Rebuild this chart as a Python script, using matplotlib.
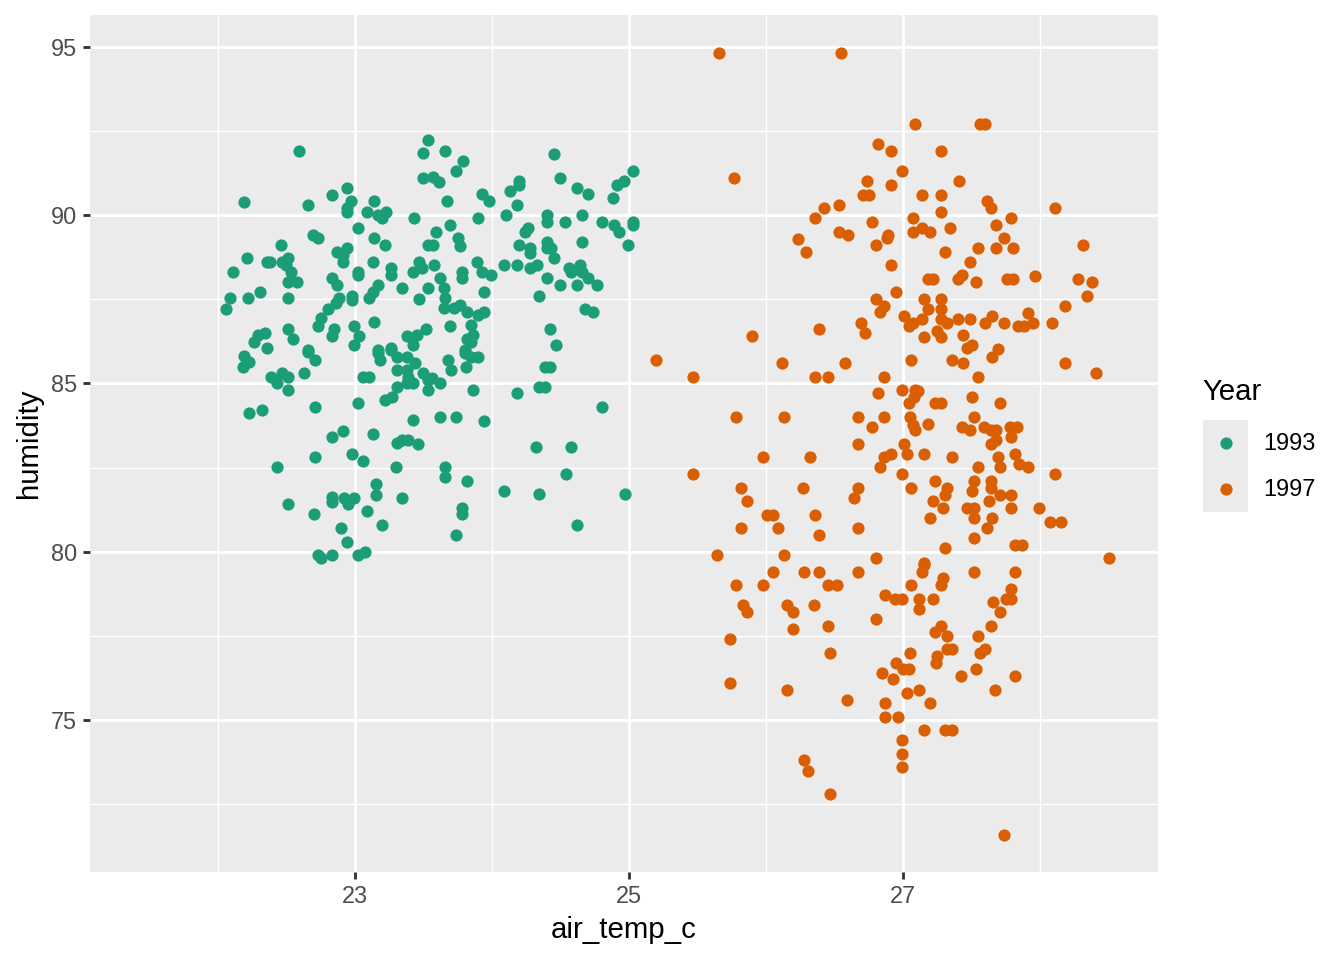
import matplotlib
matplotlib.use("Agg")
import matplotlib.pyplot as plt

# 1993 readings
temp_1993 = [22.59, 22.19, 22.66, 22.83, 22.94, 22.97, 22.94, 22.94, 23.14, 23.09,
             23.17, 23.20, 23.23, 23.43, 23.50, 23.53, 23.50, 23.02, 22.69, 22.73,
             23.14, 23.22, 22.46, 22.21, 22.36, 22.38, 22.47, 22.51, 22.50, 22.53,
             22.87, 22.94, 22.91, 22.91, 23.13, 23.26, 23.26, 23.42, 23.47, 23.49,
             22.11, 22.51, 22.58, 22.83, 22.87, 23.02, 23.02, 23.17, 23.13, 23.10,
             23.34, 23.53, 23.53, 22.09, 22.06, 22.22, 22.31, 22.51, 22.88, 22.86,
             22.98, 22.98, 23.47, 22.80, 22.75, 22.73, 23.14, 22.99, 23.03, 22.85,
             22.83, 22.51, 22.55, 22.34, 22.29, 22.26, 22.36, 22.66, 22.99, 23.17,
             23.26, 23.38, 23.45, 23.42, 23.52, 23.66, 23.79, 23.74, 23.57, 23.61,
             23.67, 23.93, 23.98, 24.13, 24.20, 24.20, 24.18, 24.10, 23.90, 24.45,
             24.50, 24.62, 24.70, 24.88, 24.91, 24.96, 25.03, 24.40, 24.40, 24.53,
             24.66, 24.80, 24.89, 24.93, 25.03, 25.03, 24.99, 24.26, 24.24, 24.20,
             24.28, 24.28, 24.40, 24.40, 24.43, 24.45, 24.66, 23.69, 23.59, 23.57,
             23.75, 23.77, 23.58, 23.62, 23.65, 23.66, 23.65, 23.78, 23.78, 23.89,
             23.93, 23.99, 23.94, 24.09, 24.18, 24.28, 24.33, 24.40, 24.50, 24.56,
             24.58, 24.64, 24.66, 24.70, 24.62, 24.77, 24.34, 23.72, 23.77, 23.82,
             23.90, 23.94, 24.68, 24.74, 23.69, 23.85, 23.86, 23.82, 23.85, 23.80,
             24.42, 24.47, 22.19, 22.23, 22.18, 22.66, 22.71, 22.63, 22.39, 22.43,
             22.47, 22.51, 22.51, 23.17, 23.18, 23.26, 23.31, 23.38, 23.44, 23.06,
             23.10, 23.31, 23.38, 23.39, 23.38, 23.42, 23.31, 23.50, 23.53, 23.53,
             23.22, 23.27, 23.02, 22.71, 22.23, 22.32, 23.42, 22.83, 22.91, 23.13,
             23.31, 23.34, 23.39, 23.46, 22.71, 22.98, 23.06, 22.43, 23.30, 23.15,
             23.15, 23.34, 22.83, 22.83, 22.92, 22.95, 22.99, 22.51, 22.70, 23.09,
             23.20, 22.90, 22.94, 22.73, 22.75, 22.83, 23.02, 23.07, 23.80, 23.85,
             23.90, 23.68, 23.70, 23.81, 23.56, 23.62, 23.86, 24.39, 24.42, 24.34,
             24.39, 24.18, 24.80, 23.62, 23.74, 23.94, 24.32, 24.58, 23.66, 23.66,
             23.82, 24.54, 24.09, 24.34, 24.97, 23.78, 23.78, 24.62, 23.74]
hum_1993 = [91.91, 90.39, 90.30, 90.60, 90.81, 90.42, 90.22, 90.10, 90.42, 90.10,
            90.01, 89.92, 90.10, 89.92, 91.85, 92.24, 91.11, 89.62, 89.41, 89.32,
            89.32, 89.12, 89.12, 88.73, 88.61, 88.61, 88.61, 88.73, 88.52, 88.31,
            88.91, 89.03, 88.82, 88.61, 88.61, 88.43, 88.22, 88.31, 88.61, 88.43,
            88.31, 88.02, 88.02, 88.14, 87.93, 88.31, 88.22, 87.93, 87.72, 87.54,
            87.84, 89.12, 87.84, 87.54, 87.21, 87.54, 87.72, 87.54, 87.54, 87.39,
            87.60, 87.48, 87.51, 87.21, 86.95, 86.71, 86.83, 86.71, 86.41, 86.62,
            86.41, 86.62, 86.32, 86.50, 86.44, 86.23, 86.05, 86.00, 86.14, 86.00,
            86.05, 86.41, 86.44, 86.14, 86.62, 91.91, 91.61, 91.31, 91.14, 90.99,
            90.42, 90.63, 90.42, 90.72, 91.02, 90.90, 90.30, 90.01, 89.92, 91.82,
            91.11, 90.81, 90.63, 90.51, 90.90, 91.02, 91.31, 90.01, 89.80, 89.80,
            90.01, 89.80, 89.71, 89.50, 89.80, 89.71, 89.12, 89.62, 89.50, 89.12,
            89.03, 88.88, 89.21, 89.03, 89.03, 88.73, 89.21, 89.71, 89.50, 89.12,
            89.32, 89.09, 88.52, 88.14, 87.84, 87.54, 87.24, 88.31, 88.14, 88.61,
            88.31, 88.22, 87.72, 88.52, 88.52, 88.43, 88.52, 88.14, 87.93, 88.43,
            88.31, 88.52, 88.31, 88.14, 87.93, 87.93, 87.60, 87.24, 87.33, 87.12,
            87.04, 87.12, 87.21, 87.12, 86.71, 86.74, 86.44, 86.32, 86.23, 86.00,
            86.62, 86.14, 85.82, 85.64, 85.49, 85.94, 85.70, 85.31, 85.19, 85.01,
            85.31, 85.19, 84.81, 85.91, 85.70, 86.00, 85.79, 85.79, 85.61, 85.19,
            85.19, 85.40, 85.40, 85.19, 85.01, 85.01, 84.90, 85.31, 85.10, 84.81,
            84.51, 84.60, 84.42, 84.30, 84.12, 84.21, 83.92, 83.41, 83.59, 83.50,
            83.23, 83.32, 83.32, 83.20, 82.82, 82.90, 82.70, 82.52, 82.52, 82.01,
            81.69, 81.60, 81.63, 81.48, 81.60, 81.42, 81.60, 81.42, 81.12, 81.21,
            80.79, 80.71, 80.29, 79.90, 79.81, 79.90, 79.90, 79.99, 85.91, 85.79,
            85.79, 85.70, 85.40, 85.49, 85.16, 85.01, 84.81, 85.49, 85.49, 84.90,
            84.90, 84.72, 84.30, 84.00, 84.00, 83.89, 83.11, 83.11, 82.52, 82.22,
            82.10, 82.31, 81.81, 81.72, 81.72, 81.30, 81.12, 80.79, 80.50]

# 1997 readings
temp_1997 = [25.66, 26.55, 26.82, 25.77, 26.74, 26.71, 26.75, 26.42, 26.53, 26.36,
             26.77, 26.53, 26.60, 26.23, 26.29, 26.80, 26.80, 27.09, 27.56, 27.60,
             26.91, 27.28, 26.99, 26.91, 27.41, 27.14, 27.28, 27.28, 27.61, 27.64,
             28.11, 27.07, 27.07, 27.14, 27.20, 27.34, 27.68, 27.79, 26.89, 26.88,
             27.74, 27.55, 27.68, 27.80, 27.31, 28.31, 26.91, 27.49, 27.18, 27.22,
             27.40, 27.43, 27.53, 27.76, 27.80, 27.96, 28.28, 28.38, 28.34, 26.95,
             26.86, 26.83, 27.15, 27.28, 27.18, 27.28, 27.28, 27.32, 27.01, 27.07,
             27.04, 27.14, 27.40, 27.49, 27.60, 27.65, 27.74, 27.84, 27.88, 27.91,
             27.95, 28.09, 28.18, 27.25, 27.15, 27.44, 27.28, 27.47, 27.50, 27.65,
             27.69, 27.06, 27.36, 27.44, 28.18, 28.41, 26.86, 27.55, 26.82, 26.99,
             27.09, 27.11, 27.08, 27.04, 27.23, 27.28, 27.50, 27.71, 26.86, 27.05,
             27.07, 27.09, 27.18, 27.52, 27.43, 27.49, 27.59, 27.64, 27.68, 27.78,
             27.83, 27.79, 27.64, 27.68, 27.01, 27.03, 26.86, 26.91, 26.83, 27.15,
             27.36, 27.69, 27.71, 27.82, 27.85, 27.91, 27.55, 28.11, 26.99, 27.06,
             27.23, 27.32, 27.31, 27.52, 27.50, 27.64, 27.64, 27.71, 27.79, 27.22,
             27.29, 27.63, 27.47, 27.52, 27.52, 27.79, 27.99, 27.20, 27.65, 27.61,
             28.07, 28.15, 27.52, 27.31, 27.82, 27.87, 26.80, 27.15, 28.50, 25.90,
             26.39, 26.69, 26.72, 25.20, 25.47, 26.12, 26.58, 26.36, 26.45, 25.78,
             26.13, 26.67, 26.77, 26.67, 25.98, 26.32, 25.47, 25.82, 25.86, 26.27,
             26.67, 26.64, 26.01, 26.05, 26.36, 25.82, 26.09, 26.39, 26.67, 25.64,
             26.13, 26.05, 26.28, 26.39, 26.67, 25.78, 25.98, 26.45, 26.52, 26.87,
             25.83, 25.86, 26.15, 26.20, 26.35, 26.80, 26.20, 26.45, 25.74, 26.47,
             26.85, 25.74, 26.15, 26.59, 26.87, 26.87, 26.28, 26.31, 26.47, 27.15,
             27.14, 27.52, 27.82, 27.29, 27.28, 27.06, 26.94, 26.99, 27.12, 27.12,
             27.22, 27.66, 27.79, 27.75, 27.79, 27.71, 27.64, 27.28, 27.23, 27.32,
             27.55, 27.05, 27.32, 27.36, 27.56, 27.60, 27.25, 27.24, 26.95, 27.00,
             27.04, 26.93, 27.42, 27.53, 27.82, 27.03, 27.12, 27.67, 27.20, 26.96,
             27.15, 27.31, 27.36, 26.99, 26.99, 26.99, 27.74]
hum_1997 = [94.82, 94.82, 92.12, 91.11, 91.02, 90.60, 90.60, 90.22, 90.30, 89.92,
            89.80, 89.50, 89.41, 89.29, 88.91, 89.12, 87.51, 92.71, 92.71, 92.71,
            91.91, 91.91, 91.31, 90.90, 91.02, 90.60, 90.60, 90.10, 90.42, 90.22,
            90.22, 89.92, 89.50, 89.62, 89.50, 89.62, 89.71, 89.92, 89.41, 89.32,
            89.32, 89.03, 89.03, 89.03, 88.91, 89.12, 88.52, 88.61, 88.11, 88.11,
            88.11, 88.22, 88.02, 88.11, 88.11, 88.19, 88.11, 88.02, 87.60, 87.72,
            87.30, 87.12, 87.51, 87.51, 87.21, 87.21, 86.92, 86.80, 87.01, 86.80,
            86.71, 86.92, 86.92, 86.92, 86.80, 87.01, 86.80, 86.71, 86.71, 87.10,
            86.80, 86.80, 87.30, 86.56, 86.38, 86.44, 86.38, 86.05, 86.14, 85.79,
            86.03, 85.70, 85.70, 85.61, 85.61, 85.31, 85.19, 85.19, 84.72, 84.81,
            84.81, 84.78, 84.60, 84.42, 84.42, 84.42, 84.60, 84.42, 84.00, 84.00,
            83.77, 83.62, 83.80, 84.00, 83.71, 83.62, 83.71, 83.62, 83.62, 83.71,
            83.71, 83.41, 83.20, 83.32, 83.20, 82.90, 82.82, 82.90, 82.52, 82.90,
            82.82, 82.82, 82.52, 82.90, 82.61, 82.52, 82.52, 82.31, 82.31, 81.89,
            82.10, 81.89, 81.69, 82.10, 81.81, 82.10, 81.89, 81.69, 81.69, 81.51,
            81.30, 81.51, 81.30, 81.30, 81.00, 81.30, 81.30, 81.00, 81.00, 80.71,
            80.88, 80.88, 80.41, 80.11, 80.20, 80.20, 79.81, 79.67, 79.81, 86.41,
            86.62, 86.80, 86.50, 85.70, 85.19, 85.61, 85.61, 85.19, 85.19, 84.00,
            84.00, 84.00, 83.71, 83.20, 82.82, 82.82, 82.31, 81.89, 81.51, 81.89,
            81.89, 81.60, 81.09, 81.09, 81.09, 80.71, 80.71, 80.50, 80.71, 79.90,
            79.90, 79.40, 79.40, 79.40, 79.40, 79.01, 79.01, 79.01, 79.01, 78.71,
            78.42, 78.21, 78.42, 78.21, 78.42, 78.00, 77.70, 77.79, 77.41, 76.99,
            76.40, 76.10, 75.89, 75.59, 75.51, 75.09, 73.81, 73.48, 72.80, 79.61,
            79.40, 79.40, 79.40, 79.22, 79.01, 79.01, 78.60, 78.60, 78.60, 78.30,
            78.60, 78.51, 78.89, 78.60, 78.60, 78.21, 77.79, 77.79, 77.61, 77.50,
            77.50, 76.99, 77.11, 77.11, 76.99, 77.11, 76.90, 76.69, 76.69, 76.52,
            76.52, 76.22, 76.31, 76.52, 76.31, 75.80, 75.89, 75.89, 75.51, 75.09,
            74.70, 74.70, 74.70, 74.41, 73.99, 73.60, 71.58]

years = ["1993", "1997"]
colors = ["#1B9E77", "#D95F02"]

plt.rcParams['font.family'] = ['Liberation Sans', 'DejaVu Sans']

W, H = 1344, 960
fig = plt.figure(figsize=(7, 5), dpi=192)

# panel placed like the ggplot panel
ax = fig.add_axes([90 / W, 1 - 872 / H, (1158 - 90) / W, (872 - 15) / H])
ax.set_facecolor('#EBEBEB')

for t, h, c in zip([temp_1993, temp_1997], [hum_1993, hum_1997], colors):
    ax.scatter(t, h, s=21, color=c, linewidths=0, zorder=3)

ax.set_xlim(21.066, 28.861)
ax.set_ylim(70.48, 95.95)
ax.set_xticks([23, 25, 27])
ax.set_xticks([22, 24, 26, 28], minor=True)
ax.set_yticks([75, 80, 85, 90, 95])
ax.set_yticks([72.5, 77.5, 82.5, 87.5, 92.5], minor=True)
ax.grid(which='major', color='white', linewidth=1.07)
ax.grid(which='minor', color='white', linewidth=0.53)
ax.set_axisbelow(True)
for s in ax.spines.values():
    s.set_visible(False)
ax.tick_params(which='major', length=2.75, width=1.07, color='#333333',
               labelsize=8.8, labelcolor='#4D4D4D', pad=2.2)
ax.tick_params(which='minor', length=0)
ax.set_xlabel('air_temp_c', fontsize=11, labelpad=2.75)
ax.set_ylabel('humidity', fontsize=11, labelpad=2.75)

# legend (ggplot style keys)
fig.text(1202 / W, 1 - 392 / H, 'Year', fontsize=11, ha='left', va='center')
for i, (yr, c) in enumerate(zip(years, colors)):
    top = 420 + 46 * i
    kax = fig.add_axes([1203 / W, 1 - (top + 46) / H, 45 / W, 46 / H])
    kax.set_facecolor('#EBEBEB')
    kax.set_xlim(0, 1)
    kax.set_ylim(0, 1)
    kax.scatter([0.5], [0.5], s=21, color=c, linewidths=0)
    kax.set_xticks([])
    kax.set_yticks([])
    for s in kax.spines.values():
        s.set_visible(False)
    fig.text(1263 / W, 1 - (top + 23) / H, yr, fontsize=8.8, ha='left', va='center')

fig.savefig('out.png', dpi=192)
